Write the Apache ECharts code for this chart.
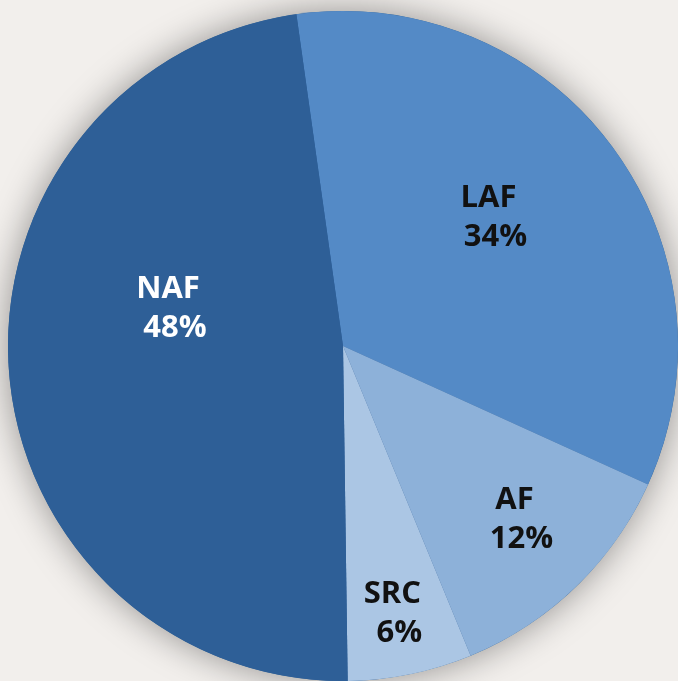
<!DOCTYPE html>
<html>
<head>
<meta charset="utf-8">
<style>
  html, body { margin: 0; padding: 0; background: #f2efec; }
  #chart { width: 678px; height: 681px; }
</style>
<script src="https://cdn.jsdelivr.net/npm/echarts@6/dist/echarts.min.js"></script>
</head>
<body>
<div id="chart"></div>
<script>
  // slices, clockwise from the top
  const names = ['LAF', 'AF', 'SRC', 'NAF']
  const values = [34, 12, 6, 48]
  const colors = ['#548ac6', '#8db1d9', '#abc6e4', '#2e5f97']
  const textColors = ['#111111', '#111111', '#111111', '#ffffff']
  // nudge from the default inside position
  const labelShift = [[9, -26], [53, 51], [15, 101], [-5, -50]]

  const chart = echarts.init(document.getElementById('chart'))
  chart.setOption({
    backgroundColor: '#f2efec',
    animation: false,
    series: [
      {
        // soft shadow under the whole pie
        type: 'pie',
        silent: true,
        z: 1,
        center: [343, 346],
        radius: 335,
        label: { show: false },
        labelLine: { show: false },
        itemStyle: {
          color: '#2e5f97',
          shadowBlur: 36,
          shadowColor: 'rgba(0,0,0,0.4)'
        },
        data: [1]
      },
      {
        type: 'pie',
        z: 2,
        center: [343, 346],
        radius: 335,
        startAngle: 98,
        clockwise: true,
        label: {
          show: true,
          position: 'inside',
          fontFamily: 'Open Sans',
          fontWeight: 'bold',
          fontSize: 31,
          lineHeight: 39,
          formatter: (p) => '{n|' + p.name + '}\n{v|' + p.value + '%}',
          rich: {
            n: { fontFamily: 'Open Sans', fontWeight: 'bold', fontSize: 31, lineHeight: 39 },
            v: { fontFamily: 'Open Sans', fontWeight: 'bold', fontSize: 31, lineHeight: 39, padding: [0, 0, 0, 14] }
          }
        },
        labelLine: { show: false },
        labelLayout: (params) => ({
          dx: labelShift[params.dataIndex][0],
          dy: labelShift[params.dataIndex][1]
        }),
        data: names.map((n, i) => ({
          name: n,
          value: values[i],
          itemStyle: { color: colors[i] },
          label: { color: textColors[i] }
        }))
      }
    ]
  })
</script>
</body>
</html>
